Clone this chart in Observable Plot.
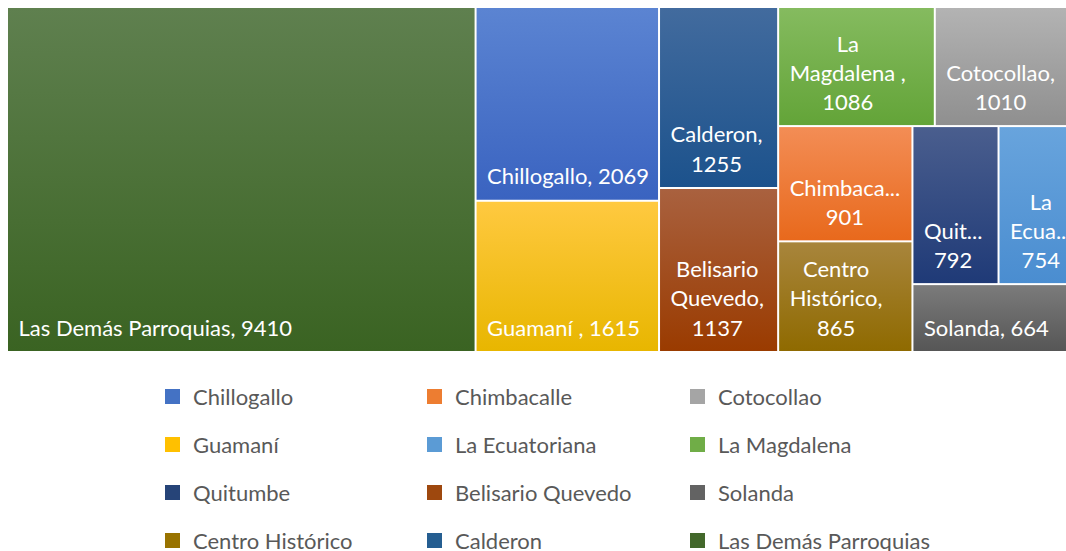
<!DOCTYPE html>
<html><head><meta charset="utf-8">
<script src="https://cdn.jsdelivr.net/npm/d3@7"></script>
<script src="https://cdn.jsdelivr.net/npm/@observablehq/plot@0.6"></script>
<style>
html,body{margin:0;padding:0;background:#fff;overflow:hidden;width:1066px;height:551px;}
#chart svg{display:block;}
#legend{display:grid;grid-template-columns:262px 263px 320px;grid-auto-rows:48px;margin-left:165px;padding-top:12px;font-family:Lato,sans-serif;}
.item{display:flex;align-items:center;font-size:22px;color:#595959;white-space:nowrap;}
.sw{width:15px;height:15px;margin-right:13px;flex:none;}
</style></head><body>
<div id="chart"></div><div id="legend"></div>
<script>
const categories = ["Chillogallo","Chimbacalle","Cotocollao","Guamaní ","La Ecuatoriana","La Magdalena ","Quitumbe","Belisario Quevedo","Solanda","Centro Histórico","Calderon","Las Demás Parroquias"];
const values = [2069,901,1010,1615,754,1086,792,1137,664,865,1255,9410];
const colorsTop = ["#5b84d2","#f38d55","#b3b3b3","#ffc940","#68a4dd","#85bb5f","#4a5e8e","#a9613f","#7b7b7b","#a8853c","#426b9e","#5f804f"];
const colorsBottom = ["#3a63c0","#e8691c","#8f8f8f","#e8b600","#4a8dd0","#63a438","#1f3a77","#9a3b00","#565656","#8f6a00","#1c528c","#3a6322"];
const colorsLegend = ["#4472c4","#ed7d31","#a5a5a5","#ffc000","#5b9bd5","#70ad47","#264478","#9e480e","#636363","#997300","#255e91","#43682b"];

const W = 1073.5, H = 345, X0 = 7, Y0 = 7;
const FONT = 22, PAD = 10;

const root = d3.hierarchy({children: categories.map((c, i) => ({name: c, value: values[i], i}))})
  .sum(d => d.value ?? 0)
  .sort((a, b) => b.value - a.value);
d3.treemap().tile(d3.treemapSquarify.ratio(1)).size([W, H]).round(false)(root);

const ctx = document.createElement("canvas").getContext("2d");
ctx.font = `${FONT}px Lato`;
const mw = s => ctx.measureText(s).width;

function wrap(label, avail) {
  // no line break before punctuation such as ","
  const words = [];
  label.split(" ").filter(w => w.length).forEach(w => {
    if (/^[,.;:]/.test(w) && words.length) words[words.length - 1] += " " + w;
    else words.push(w);
  });
  const lines = [];
  let cur = "";
  for (let w of words) {
    const test = cur ? cur + " " + w : w;
    if (mw(test) <= avail) { cur = test; continue; }
    if (cur) lines.push(cur);
    if (mw(w) <= avail) { cur = w; }
    else {
      let k = w.length;
      while (k > 1 && mw(w.slice(0, k) + "...") > avail) k--;
      lines.push(w.slice(0, k) + "...");
      cur = "";
    }
  }
  if (cur) lines.push(cur);
  return lines;
}

const cells = root.leaves().map(l => {
  const d = l.data;
  const label = `${d.name}, ${d.value}`;
  const lines = wrap(label, (l.x1 - l.x0) - 20.4);
  const bw = d3.max(lines, mw);
  return {...d, x0: l.x0, x1: l.x1, y0: l.y0, y1: l.y1, lines, cx: l.x0 + 1 + PAD + bw / 2};
});

const chart = Plot.plot({
  width: 1066, height: 360,
  margin: 0, marginTop: 0, marginRight: 0, marginBottom: 0, marginLeft: 0,
  x: {domain: [0, W], range: [X0, X0 + W], axis: null},
  y: {domain: [0, H], range: [Y0, Y0 + H], axis: null},
  color: {type: "identity"},
  style: {background: "#fff"},
  marks: [
    Plot.rect(cells, {x1: "x0", x2: "x1", y1: "y0", y2: "y1", inset: 1, fill: d => `url(#grad${d.i})`}),
    Plot.text(cells, {x: "cx", y: "y1", dy: -17, text: d => d.lines.join("\n"), lineAnchor: "bottom", textAnchor: "middle",
      lineHeight: 1.32, fontSize: FONT, fontFamily: "Lato", fill: "white"})
  ]
});

const ns = "http://www.w3.org/2000/svg";
const defs = document.createElementNS(ns, "defs");
categories.forEach((c, i) => {
  const g = document.createElementNS(ns, "linearGradient");
  g.setAttribute("id", `grad${i}`);
  g.setAttribute("x1", "0"); g.setAttribute("y1", "0"); g.setAttribute("x2", "0"); g.setAttribute("y2", "1");
  [[0, colorsTop[i]], [1, colorsBottom[i]]].forEach(([o, col]) => {
    const s = document.createElementNS(ns, "stop");
    s.setAttribute("offset", o); s.setAttribute("stop-color", col);
    g.appendChild(s);
  });
  defs.appendChild(g);
});
chart.insertBefore(defs, chart.firstChild);
document.getElementById("chart").appendChild(chart);

const legend = d3.select("#legend");
categories.forEach((c, i) => {
  const it = legend.append("div").attr("class", "item");
  it.append("div").attr("class", "sw").style("background", colorsLegend[i]);
  it.append("span").text(c.trim());
});
</script>
</body></html>
